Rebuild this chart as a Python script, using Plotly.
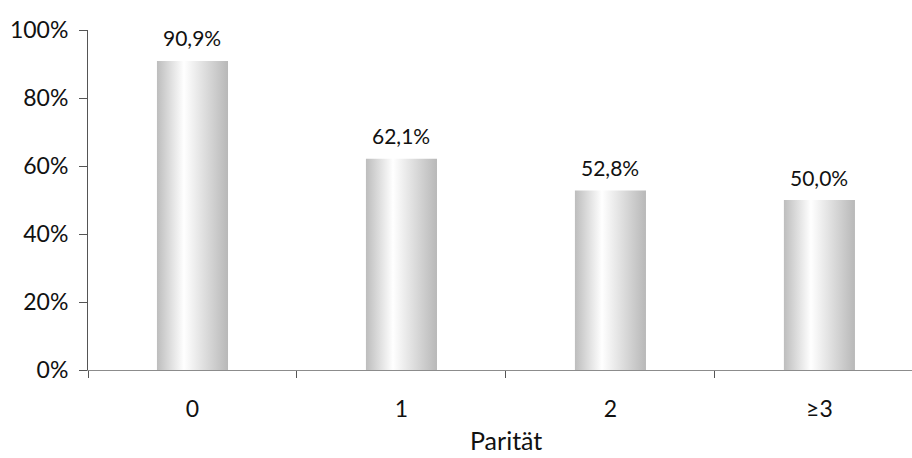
import plotly.graph_objects as go

categories = ["0", "1", "2", "≥3"]
values = [90.9, 62.1, 52.8, 50.0]
value_labels = ["90,9%", "62,1%", "52,8%", "50,0%"]
y_tickvals = [0, 20, 40, 60, 80, 100]
y_ticktext = ["0%", "20%", "40%", "60%", "80%", "100%"]
x_title = "Parität"

FONT = "Lato"
BAR_HALF = 0.17
gradient = [[0.0, "#bdbdbd"], [0.38, "#ffffff"], [1.0, "#b8b8b8"]]

fig = go.Figure()
for i, (v, lab) in enumerate(zip(values, value_labels)):
    x0, x1 = i - BAR_HALF, i + BAR_HALF
    fig.add_trace(go.Scatter(
        x=[x0, x1, x1, x0, x0],
        y=[0, 0, v, v, 0],
        mode="lines",
        line=dict(width=0),
        fill="toself",
        fillgradient=dict(type="horizontal", colorscale=gradient),
        hoverinfo="skip",
        showlegend=False,
    ))
    fig.add_annotation(
        x=i, y=v, text=lab, showarrow=False, yshift=23,
        font=dict(family=FONT, size=21, color="#111"),
    )

# axis title placed below the category labels
fig.add_annotation(
    x=(1.5 + 0.5) / 3.943, xref="paper", y=-0.206, yref="paper",
    text=x_title, showarrow=False, yanchor="middle",
    font=dict(family=FONT, size=25, color="#111"),
)

fig.update_layout(
    width=912, height=458,
    margin=dict(l=88, r=0, t=30, b=88),
    paper_bgcolor="white", plot_bgcolor="white",
    font=dict(family=FONT, color="#111"),
    xaxis=dict(
        range=[-0.5, 3.443],
        tickvals=list(range(len(categories))),
        ticktext=categories,
        ticks="",
        ticklabelstandoff=18,
        showgrid=False, zeroline=False,
        showline=True, linecolor="#8c8c8c", linewidth=1,
        tickfont=dict(size=23),
        minor=dict(ticks="outside", tick0=-0.5, dtick=1, ticklen=7,
                   tickcolor="#555", showgrid=False),
    ),
    yaxis=dict(
        range=[0, 100],
        tickvals=y_tickvals, ticktext=y_ticktext,
        ticks="outside", ticklen=8, tickcolor="#555",
        ticklabelstandoff=6,
        showgrid=False, zeroline=False,
        showline=True, linecolor="#555", linewidth=1,
        tickfont=dict(size=23),
    ),
)

fig.write_html("out.html")
